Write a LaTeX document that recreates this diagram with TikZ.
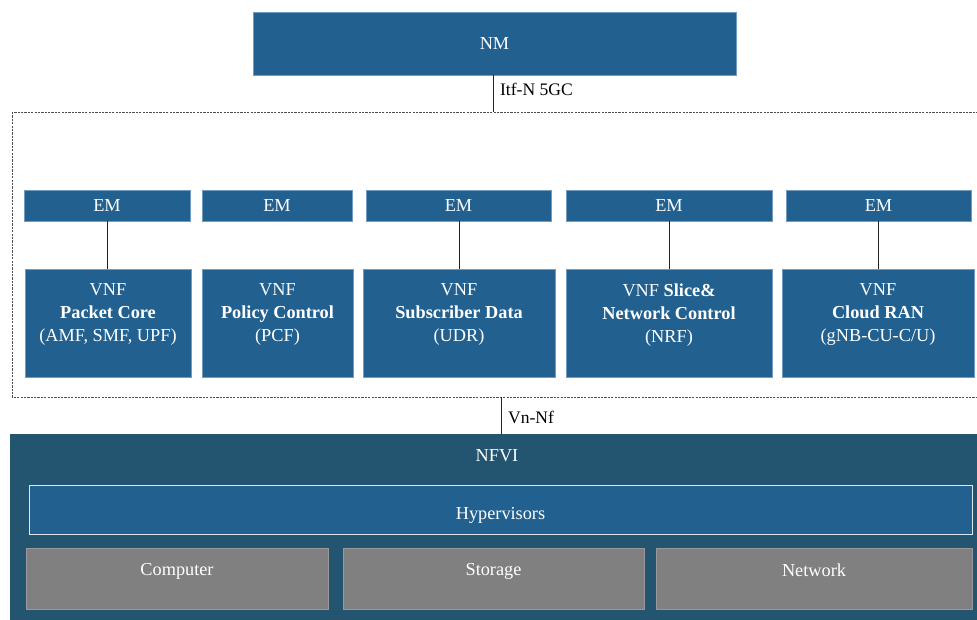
\documentclass[tikz,border=0pt]{standalone}
\usepackage{fontspec}
\setmainfont{Liberation Serif}
\usetikzlibrary{positioning,calc}
\definecolor{BoxBlue}{HTML}{22618F}
\definecolor{InfraBlue}{HTML}{235571}
\definecolor{EdgeBlue}{HTML}{6F9CC0}
\definecolor{ResGray}{HTML}{808080}
\definecolor{LineInk}{HTML}{222222}

\begin{document}
\begin{tikzpicture}[
 x=0.025cm,y=-0.025cm,
 font=\fontsize{13}{16.3}\selectfont,
 box/.style={draw=EdgeBlue,line width=.4pt,fill=BoxBlue,text=white,inner sep=0pt,align=center},
 em/.style={box,minimum height=31*0.025cm},
 vnf/.style={box,minimum height=108*0.025cm},
 res/.style={fill=ResGray,draw=ResGray!80!white,line width=.4pt,text=white,inner sep=0pt,minimum height=61*0.025cm},
 wire/.style={draw=LineInk,line width=.6pt},
 tag/.style={anchor=west,font=\fontsize{12.5}{14}\selectfont,text=black,inner sep=2pt}
]
 \useasboundingbox (0,0) rectangle (977,619);
 % management level
 \node[box,minimum width=483*0.025cm,minimum height=63*0.025cm] (nm) at (494.5,43.5) {NM};
 \draw[dashed,dash pattern=on 1.6pt off .8pt,draw=LineInk!80,line width=.5pt]
   (12,112) rectangle (978,397);
 \coordinate (vnftop) at (493,112);
 \draw[wire] (nm.south-|vnftop)--(vnftop);
 \node[tag] (itfn) at (497,89) {Itf-N 5GC};
 % element managers and VNFs
 \foreach \n/\xa/\xb in {1/24/190,2/202/352,3/366/551,4/566/772,5/786/971}
   \node[em,minimum width={(\xb-\xa)*0.025cm}] (em\n) at ({(\xa+\xb)/2},205.5) {EM};
 \foreach \n/\xa/\xb in {1/25/191,2/202/353,3/363/555,4/566/772,5/782/974}
   \node[vnf,minimum width={(\xb-\xa)*0.025cm}] (vnf\n) at ({(\xa+\xb)/2},323) {};
 \node[text=white,align=center,anchor=north] (t1) at ([yshift=-10*0.025cm]vnf1.north)
   {VNF\\\textbf{Packet Core}\\(AMF, SMF, UPF)};
 \node[text=white,align=center,anchor=north] (t2) at ([yshift=-10*0.025cm]vnf2.north)
   {VNF\\\textbf{Policy Control}\\(PCF)};
 \node[text=white,align=center,anchor=north] (t3) at ([yshift=-10*0.025cm]vnf3.north)
   {VNF\\\textbf{Subscriber Data}\\(UDR)};
 \node[text=white,align=center,anchor=north] (t4) at ([yshift=-10*0.025cm]vnf4.north)
   {VNF \textbf{Slice\&}\\\textbf{Network Control}\\(NRF)};
 \node[text=white,align=center,anchor=north] (t5) at ([yshift=-10*0.025cm]vnf5.north)
   {VNF\\\textbf{Cloud RAN}\\(gNB-CU-C/U)};
 \foreach \n/\x in {1/107,3/459,4/669,5/878}
   \draw[wire] (em\n.south-|{\x,0})--(vnf\n.north-|{\x,0});
 % infrastructure
 \node[fill=InfraBlue,inner sep=0pt,minimum width=968*0.025cm,minimum height=186*0.025cm,
   anchor=north west] (nfvi) at (10,434) {};
 \node[text=white,anchor=north] (nfvilbl) at (497,445) {NFVI};
 \coordinate (vnbot) at (501,397);
 \draw[wire] (vnbot)--(nfvi.north-|vnbot);
 \node[tag] (vnnf) at (505,417) {Vn-Nf};
 \node[box,draw=white!85!BoxBlue,line width=.6pt,minimum width=943*0.025cm,minimum height=49*0.025cm]
   (hyp) at (500.5,509.5) {};
 \node[text=white] (hyplbl) at ([yshift=-6*0.025cm]hyp.center) {Hypervisors};
 \node[res,minimum width=302*0.025cm] (comp) at (177,578.5) {};
 \node[res,minimum width=301*0.025cm] (stor) at (493.5,578.5) {};
 \node[res,minimum width=316*0.025cm] (netw) at (814,578.5) {};
 \foreach \r/\t in {comp/Computer,stor/Storage,netw/Network}
   \node[text=white,anchor=north] (\r lbl) at ([yshift=-11*0.025cm]\r.north) {\t};
\end{tikzpicture}
\end{document}
